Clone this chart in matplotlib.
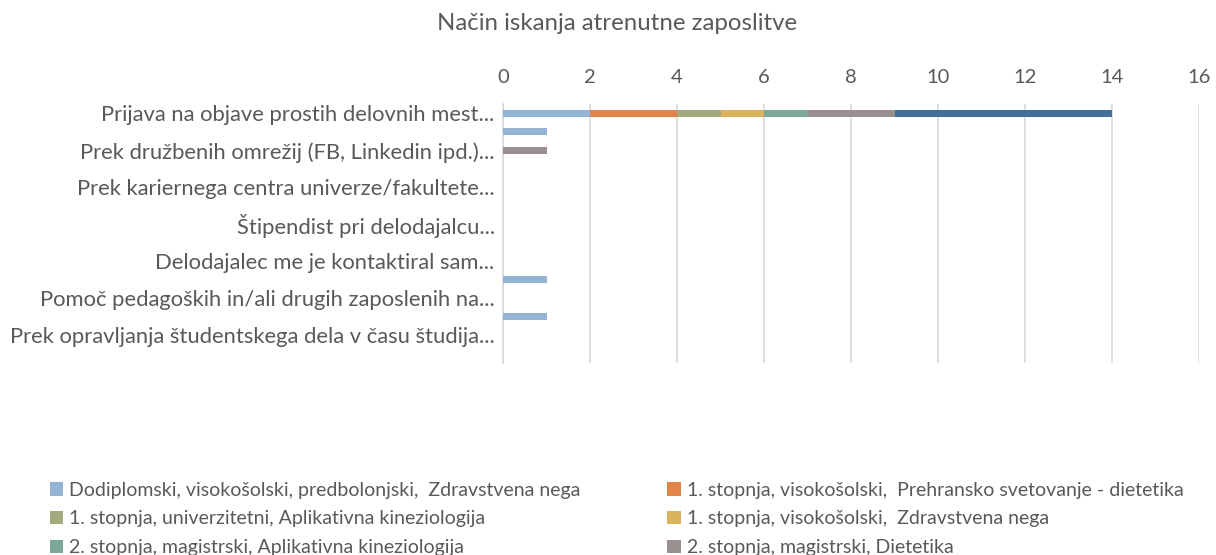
import matplotlib.pyplot as plt
import numpy as np
from matplotlib.patches import Patch

# kategorije (Excel prikaze samo vsako drugo oznako)
kategorije = [
    "Prijava na objave prostih delovnih mest...", "",
    "Prek družbenih omrežij (FB, Linkedin ipd.)...", "",
    "Prek kariernega centra univerze/fakultete...", "",
    "Štipendist pri delodajalcu...", "",
    "Delodajalec me je kontaktiral sam...", "",
    "Pomoč pedagoških in/ali drugih zaposlenih na...", "",
    "Prek opravljanja študentskega dela v času študija...", "",
]

serije = [
    "Dodiplomski, visokošolski, predbolonjski,  Zdravstvena nega",
    "1. stopnja, visokošolski,  Prehransko svetovanje - dietetika",
    "1. stopnja, univerzitetni, Aplikativna kineziologija",
    "1. stopnja, visokošolski,  Zdravstvena nega",
    "2. stopnja, magistrski, Aplikativna kineziologija",
    "2. stopnja, magistrski, Dietetika",
    None,  # zadnja serija - legenda je odrezana
]

vrednosti = [
    [2, 1, 0, 0, 0, 0, 0, 0, 0, 1, 0, 1, 0, 0],
    [2, 0, 0, 0, 0, 0, 0, 0, 0, 0, 0, 0, 0, 0],
    [1, 0, 0, 0, 0, 0, 0, 0, 0, 0, 0, 0, 0, 0],
    [1, 0, 0, 0, 0, 0, 0, 0, 0, 0, 0, 0, 0, 0],
    [1, 0, 0, 0, 0, 0, 0, 0, 0, 0, 0, 0, 0, 0],
    [2, 0, 1, 0, 0, 0, 0, 0, 0, 0, 0, 0, 0, 0],
    [5, 0, 0, 0, 0, 0, 0, 0, 0, 0, 0, 0, 0, 0],
]

barve = ["#94B4D6", "#E2834A", "#A4A97E", "#DBB35C", "#7AA89B", "#9A8F8E", "#40709A"]

siva = "#595959"
plt.rcParams['font.family'] = ['Lato', 'DejaVu Sans']

fig = plt.figure(figsize=(12.16, 5.55), dpi=100)
ax = fig.add_axes([503 / 1216, 1 - 363 / 555, 696 / 1216, 259 / 555])

y = np.arange(len(kategorije))
levo = np.zeros(len(kategorije))
for v, b in zip(vrednosti, barve):
    v = np.array(v, dtype=float)
    ax.barh(y, v, left=levo, height=0.38, color=b, zorder=3)
    levo += v

ax.set_ylim(len(kategorije) - 0.5, -0.5)
ax.set_xlim(0, 16)
ax.set_xticks(range(0, 17, 2))
ax.xaxis.tick_top()
ax.tick_params(axis='x', length=0, labelsize=14.5, colors=siva, pad=13)
ax.set_yticks(y)
ax.set_yticklabels(kategorije)
ax.tick_params(axis='y', length=0, labelsize=15.8, colors=siva, pad=6)
ax.grid(axis='x', color="#D9D9D9", linewidth=1.2, zorder=0)
for s in ['top', 'right', 'bottom']:
    ax.spines[s].set_visible(False)
ax.spines['left'].set_color("#D9D9D9")
ax.spines['left'].set_linewidth(1.2)

fig.text(617 / 1216, 1 - 24 / 555, "Način iskanja atrenutne zaposlitve",
         ha='center', va='center', fontsize=17.3, color=siva)

# legenda, vrstni red po stolpcih
red = [0, 2, 4, 1, 3, 5]
rocke = [Patch(facecolor=barve[i], label=serije[i]) for i in red]
fig.legend(handles=rocke, loc='upper left', bbox_to_anchor=(42 / 1216, 1 - 474 / 555),
           ncol=2, frameon=False, fontsize=14, labelcolor=siva,
           handlelength=0.7, handleheight=0.7, handletextpad=0.3,
           columnspacing=4.45, labelspacing=0.6, borderaxespad=0)

fig.savefig("out.png", dpi=100)
